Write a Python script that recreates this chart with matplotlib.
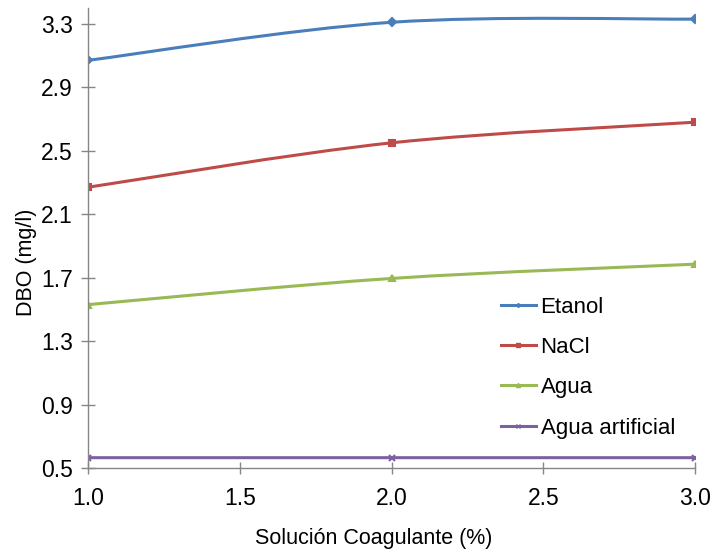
import numpy as np
import matplotlib.pyplot as plt
from matplotlib.path import Path
from matplotlib.patches import PathPatch

# Datos
concentracion = [1.0, 2.0, 3.0]
etanol = [3.07, 3.31, 3.33]
nacl = [2.27, 2.55, 2.68]
agua = [1.53, 1.695, 1.785]
agua_artificial = [0.565, 0.565, 0.565]

series = [("Etanol", etanol, "#4A7EBB", "D", 4),
          ("NaCl", nacl, "#BE4B48", "s", 5),
          ("Agua", agua, "#98B954", "^", 5),
          ("Agua artificial", agua_artificial, "#7D60A0", "x", 5)]

plt.rcParams.update({"font.family": ["Liberation Sans", "DejaVu Sans"],
                     "font.size": 15})


def curva_suave(x, y):
    # Curva tipo "linea suavizada" de Excel (Bezier cubica)
    p = np.column_stack([x, y])
    n = len(p)
    verts = [p[0]]
    codes = [Path.MOVETO]
    for i in range(n - 1):
        p0 = p[i - 1] if i > 0 else p[i]
        p3 = p[i + 2] if i + 2 < n else p[i + 1]
        c1 = p[i] + (p[i + 1] - p0) / 6.0
        c2 = p[i + 1] - (p3 - p[i]) / 6.0
        verts += [c1, c2, p[i + 1]]
        codes += [Path.CURVE4] * 3
    return Path(verts, codes)


fig = plt.figure(figsize=(7.13, 5.56), dpi=100)
ax = fig.add_axes([0.1234, 0.1583, 0.8514, 0.8273])

for nombre, valores, color, marcador, tam in series:
    ax.add_patch(PathPatch(curva_suave(concentracion, valores),
                           facecolor="none", edgecolor=color,
                           linewidth=2.2, capstyle="round"))
    ax.plot(concentracion, valores, linestyle="none", marker=marcador,
            color=color, markersize=tam, markeredgewidth=1.5)
    # entrada de leyenda
    ax.plot([], [], color=color, linewidth=2.2, marker=marcador,
            markersize=tam - 2, label=nombre)

ax.set_xlim(1.0, 3.0)
ax.set_ylim(0.5, 3.4)
ax.set_xticks(np.arange(1.0, 3.01, 0.5))
ax.set_yticks(np.arange(0.5, 3.31, 0.4))
ax.xaxis.set_major_formatter(plt.FormatStrFormatter("%.1f"))
ax.yaxis.set_major_formatter(plt.FormatStrFormatter("%.1f"))

for lado in ["top", "right"]:
    ax.spines[lado].set_visible(False)
for lado in ["left", "bottom"]:
    ax.spines[lado].set_color("#868686")
    ax.spines[lado].set_linewidth(1)
ax.tick_params(axis="y", direction="inout", length=10, width=1,
               color="#868686", labelsize=16.5, pad=6)
ax.tick_params(axis="x", direction="inout", length=8, width=1,
               color="#868686", labelsize=16.5, pad=10)

ax.set_xlabel("Solución Coagulante (%)", fontsize=15.5)
ax.set_ylabel("DBO (mg/l)", fontsize=15.5)
ax.xaxis.set_label_coords(0.471, -0.13)
ax.yaxis.set_label_coords(-0.084, 0.448)

ax.legend(loc="upper left", bbox_to_anchor=(0.665, 0.392),
          frameon=False, handlelength=1.6, handletextpad=0.2,
          labelspacing=0.87, fontsize=16, borderaxespad=0)

fig.savefig("out.png", dpi=100)
